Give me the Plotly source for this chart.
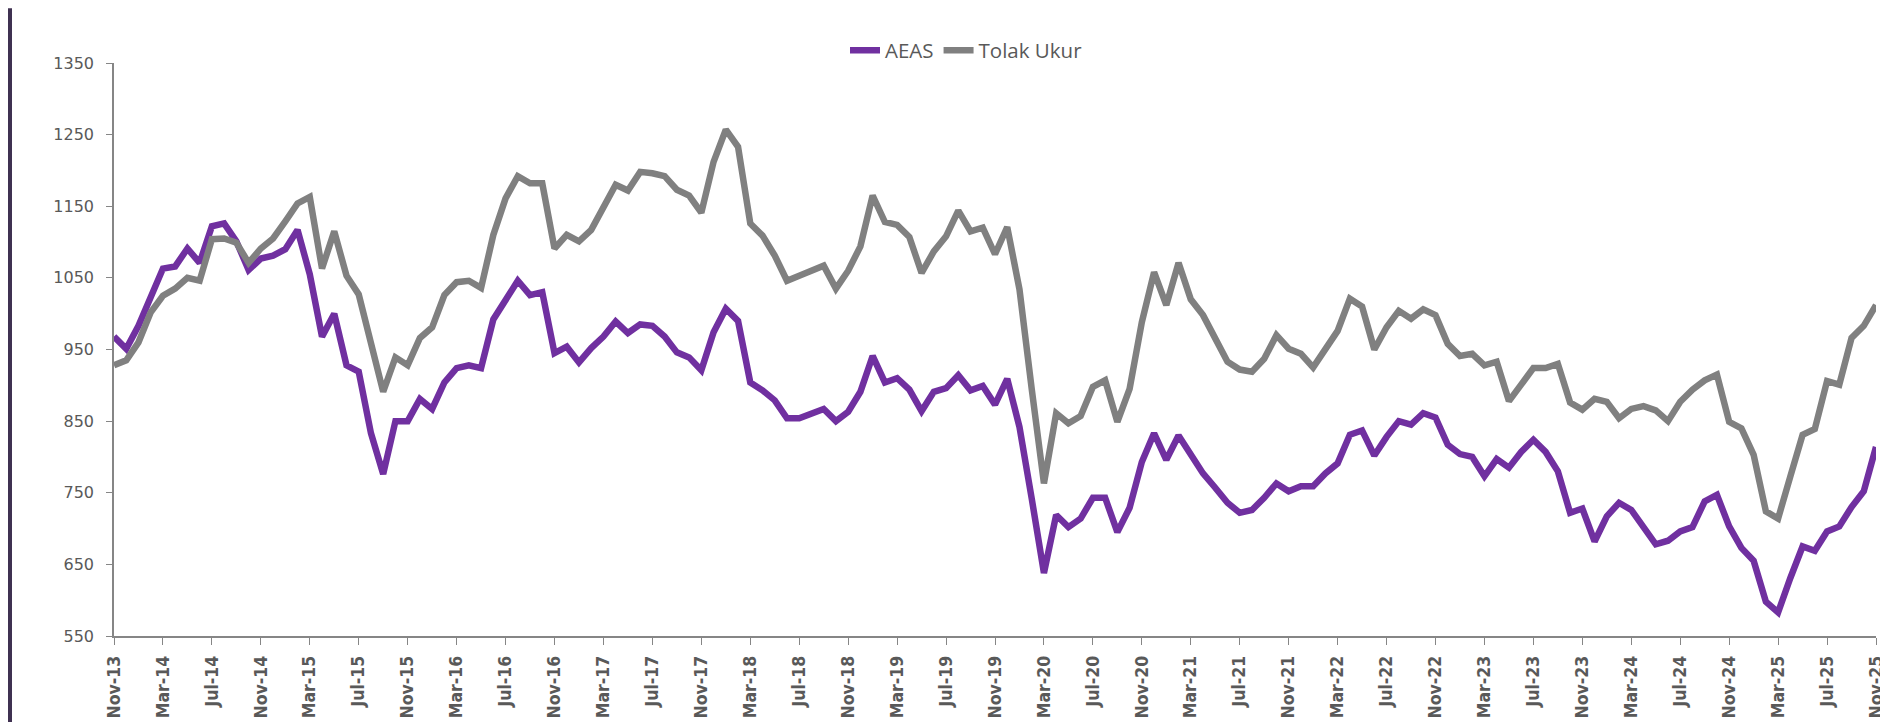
import pandas as pd
import plotly.graph_objects as go

months = pd.date_range("2013-11-01", "2025-11-01", freq="MS").strftime("%b-%y").tolist()

aeas = [968, 951, 983, 1023, 1063, 1066, 1091, 1071, 1122, 1126, 1101, 1061, 1077, 1081, 1090, 1117,
        1055, 968, 1000, 928, 919, 833, 776, 850, 850, 881, 867, 904, 924, 928, 924, 992,
        1021, 1046, 1026, 1030, 945, 954, 932, 952, 968, 989, 973, 985, 983, 968, 946, 939,
        921, 974, 1007, 990, 904, 893, 879, 854, 854, 860, 867, 850, 863, 891, 941, 904,
        910, 894, 864, 891, 896, 914, 893, 899, 873, 909, 842, 742, 638, 719, 702, 714,
        743, 743, 695, 729, 793, 833, 796, 830, 804, 777, 757, 736, 722, 726, 743, 763,
        752, 759, 759, 777, 791, 831, 837, 802, 828, 850, 845, 861, 855, 817, 804, 800,
        773, 797, 785, 807, 824, 807, 780, 722, 728, 682, 717, 736, 726, 703, 678, 683,
        696, 702, 738, 747, 703, 673, 655, 598, 583, 631, 675, 669, 696, 703, 730, 752, 814]

tolak_ukur = [928, 935, 960, 1002, 1025, 1035, 1050, 1046, 1104, 1105, 1099, 1071, 1091, 1105, 1129, 1154,
              1163, 1063, 1115, 1053, 1027, 960, 891, 939, 928, 966, 981, 1026, 1044, 1046, 1036, 1110,
              1161, 1192, 1182, 1182, 1091, 1110, 1101, 1117, 1150, 1180, 1172, 1198, 1196, 1192, 1173, 1165,
              1141, 1212, 1257, 1233, 1126, 1109, 1081, 1046, 1053, 1060, 1067, 1035, 1060, 1094, 1165, 1128,
              1124, 1107, 1057, 1087, 1108, 1144, 1115, 1120, 1083, 1121, 1034, 895, 763, 861, 847, 857,
              898, 907, 849, 895, 988, 1058, 1012, 1071, 1020, 998, 966, 933, 922, 919, 937, 970,
              951, 944, 925, 949, 976, 1021, 1010, 950, 981, 1004, 993, 1006, 998, 958, 941, 944,
              928, 933, 878, 901, 924, 924, 930, 876, 866, 881, 877, 854, 867, 871, 865, 850,
              877, 894, 907, 915, 849, 840, 803, 724, 714, 773, 831, 839, 906, 901, 966, 983, 1012]

tick_labels = months[::4]
y_ticks = list(range(550, 1351, 100))

# page has an 8px body margin, so the figure is 8px smaller and everything shifted by 8
W, H = 1880, 714
ml = 106.0
pr = 1868.0
mt = 54.7
pb = 627.7
mr = W - pr
mb = H - pb
pw = pr - ml
ph = pb - mt

fig = go.Figure()
fig.add_trace(go.Scatter(x=months, y=aeas, mode="lines", name="AEAS",
                         line=dict(color="#7030A0", width=6.5)))
fig.add_trace(go.Scatter(x=months, y=tolak_ukur, mode="lines", name="Tolak Ukur",
                         line=dict(color="#808080", width=6.5)))

fig.update_layout(
    width=W, height=H,
    margin=dict(l=ml, r=mr, t=mt, b=mb, autoexpand=False),
    plot_bgcolor="white", paper_bgcolor="white",
    showlegend=True,
    legend=dict(orientation="h", x=(958.5 - ml) / pw, xanchor="center",
                y=1 + 12.7 / ph, yanchor="middle",
                font=dict(family="Open Sans, Noto Sans, sans-serif", size=20.5, color="#595959"),
                bgcolor="rgba(0,0,0,0)", tracegroupgap=0),
    xaxis=dict(type="category", range=[0, len(months) - 1],
               tickmode="array", tickvals=tick_labels, ticktext=tick_labels,
               tickangle=-90, ticks="outside", ticklen=7, tickcolor="#868686",
               showline=True, linecolor="#868686", linewidth=1.5,
               showgrid=False, zeroline=False, ticklabelstandoff=4,
               tickfont=dict(family="DejaVu Sans Condensed, sans-serif",
                             size=17.5, color="#595959", weight="bold")),
    yaxis=dict(range=[550, 1350], tickmode="array", tickvals=y_ticks,
               ticks="outside", ticklen=6, tickcolor="#868686",
               showline=True, linecolor="#868686", linewidth=1.5,
               showgrid=False, zeroline=False, ticklabelstandoff=9,
               tickfont=dict(family="DejaVu Sans, sans-serif", size=16, color="#595959")),
    shapes=[dict(type="rect", xref="paper", yref="paper",
                 x0=(0 - ml) / pw, x1=(4 - ml) / pw,
                 y0=-mb / ph - 0.05, y1=1 + mt / ph,
                 fillcolor="#3F3151", line=dict(width=0), layer="above")],
)

fig.write_html("out.html")
